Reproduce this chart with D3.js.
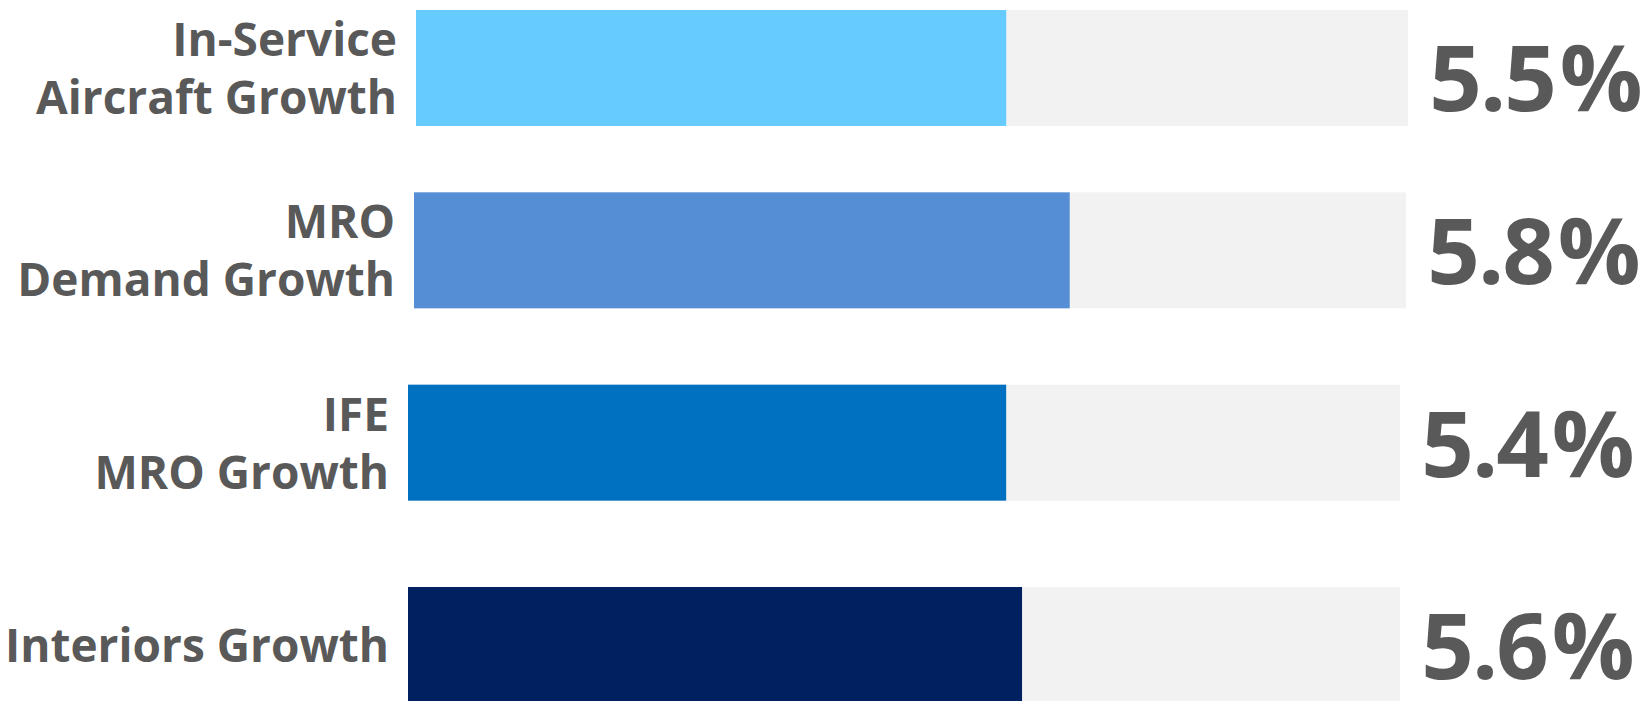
<!DOCTYPE html>
<html>
<head>
<meta charset="utf-8">
<script src="https://cdn.jsdelivr.net/npm/d3@7"></script>
<style>
  body { margin: 0; background: #ffffff; }
  svg { display: block; }
</style>
</head>
<body>
<div id="chart"></div>
<script>
// Growth bars

const categories = ["In-Service Aircraft Growth", "MRO Demand Growth", "IFE MRO Growth", "Interiors Growth"];
const labelLines = [["In-Service", "Aircraft Growth"], ["MRO", "Demand Growth"], ["IFE", "MRO Growth"], ["Interiors Growth"]];
const growthRates = [5.5, 5.8, 5.4, 5.6];
// filled share of each grey track, in percent
const barShares = [59.5, 66.1, 60.3, 61.9];
const barColors = ["#66CCFF", "#558ED5", "#0070C0", "#002060"];

const width = 1648;
const height = 701;

// the original rows are not quite aligned, nudge them a bit
const rowNudgeX = [8, 6, 0, 0];
const rowNudgeY = [0, -10, -10, 0];
const valueNudgeY = [9, 0, 0, 0];

const trackStart = 408;
const trackLength = 992;
const textColor = "#595959";
const font = "'Open Sans', 'Noto Sans', sans-serif";

const rows = categories.map((c, i) => ({
    name: c,
    lines: labelLines[i],
    rate: growthRates[i],
    share: barShares[i],
    color: barColors[i],
    dx: rowNudgeX[i],
    dy: rowNudgeY[i],
    vy: valueNudgeY[i]
}));

const svg = d3.select("#chart")
    .append("svg")
    .attr("width", width)
    .attr("height", height);

const yScale = d3.scaleBand()
    .domain(categories)
    .range([10, 703])
    .paddingInner(0.397)
    .paddingOuter(0);

const xScale = d3.scaleLinear()
    .domain([0, 100])
    .range([0, trackLength]);

const row = svg.selectAll(".row")
    .data(rows)
    .enter()
    .append("g")
    .attr("class", "row")
    .attr("transform", d => "translate(" + (trackStart + d.dx) + "," + (yScale(d.name) + d.dy) + ")");

const bw = yScale.bandwidth();

// grey track
row.append("rect")
    .attr("x", xScale(0))
    .attr("y", 0)
    .attr("width", xScale(100))
    .attr("height", bw)
    .attr("fill", "#F2F2F2");

// filled part
row.append("rect")
    .attr("x", xScale(0))
    .attr("y", 0)
    .attr("width", d => xScale(d.share))
    .attr("height", bw)
    .attr("fill", d => d.color);

// labels on the left
row.append("text")
    .attr("text-anchor", "end")
    .attr("fill", textColor)
    .style("font-family", font)
    .style("font-weight", "bold")
    .style("font-size", "46px")
    .each(function(d) {
        const t = d3.select(this);
        const n = d.lines.length;
        d.lines.forEach((line, k) => {
            const off = n === 1 ? 17 : (k === 0 ? -12 : 46);
            t.append("tspan")
                .attr("x", -19)
                .attr("y", bw / 2 + off)
                .text(line);
        });
    });

// value on the right
const value = row.append("text")
    .attr("x", xScale(100) + 128)
    .attr("y", d => bw / 2 + 34 + d.vy)
    .attr("text-anchor", "middle")
    .attr("fill", textColor)
    .style("font-family", font)
    .style("font-weight", "bold")
    .style("font-size", "92px");

value.append("tspan")
    .style("letter-spacing", "-2px")
    .text(d => d.rate.toFixed(1));

value.append("tspan")
    .attr("dx", 5)
    .text("%");
</script>
</body>
</html>
